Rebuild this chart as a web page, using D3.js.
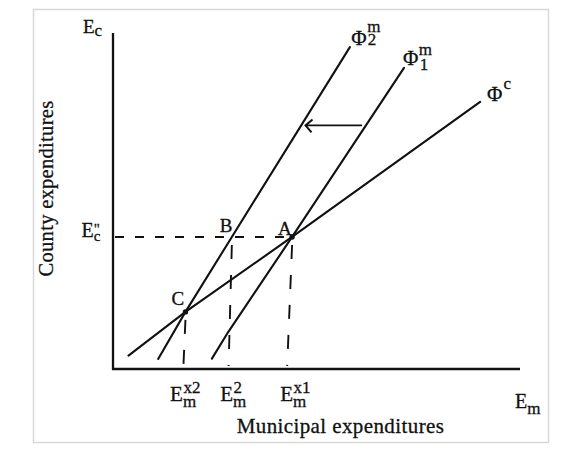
<!DOCTYPE html>
<html><head><meta charset="utf-8">
<script src="https://cdn.jsdelivr.net/npm/d3@7"></script>
<style>
body{margin:0;background:#fff}
svg{display:block}
text{font-family:"Liberation Serif","Times New Roman",serif;fill:#111;stroke:#111;stroke-width:0.3px}
</style>
</head><body>
<svg id="c" width="576" height="451"></svg>
<script>
// ---- data (abstract units) ----
const phiC  = [[3.8,4.0],[17.8,17.0],[44.0,39.3],[90.2,79.5]];
const phiM2 = [[11.1,3.0],[17.8,17.0],[29.2,39.3],[58.2,95.8]];
const phiM1 = [[24.3,3.1],[28.3,11.0],[44.0,39.3],[71.5,89.6]];
const pointNames = ["A","B","C"];
const pointX = [44.0, 29.2, 17.8];
const pointY = [39.3, 39.3, 17.0];
const ecLevel = 39.3;
const dropTopX = [17.8, 29.2, 44.0];
const dropTopY = [17.0, 39.3, 39.3];
const dropBottomX = [17.3, 28.4, 42.8];
const tickSup = ["x2", "2", "x1"];
const arrowFrom = [61.2, 72.5];
const arrowTo = [47.3, 72.5];

// ---- layout ----
const svg = d3.select("#c");
const x = d3.scaleLinear().domain([0,100]).range([113,520]);
const y = d3.scaleLinear().domain([0,100]).range([369,33]);
const ink = "#111";

// frame
svg.append("rect").attr("x",33.5).attr("y",9.5).attr("width",515).attr("height",433)
  .attr("fill","none").attr("stroke","#d8d8d8").attr("stroke-width",1.5);

// axes
svg.append("line").attr("x1",x(0)).attr("x2",x(0)).attr("y1",y(0)+1).attr("y2",y(100))
  .attr("stroke",ink).attr("stroke-width",2.3);
svg.append("line").attr("x1",x(0)-1).attr("x2",x(100)).attr("y1",y(0)).attr("y2",y(0))
  .attr("stroke",ink).attr("stroke-width",2.3);

// dashed horizontal at Ec''
svg.append("line").attr("x1",x(0)+2).attr("x2",x(pointX[0])).attr("y1",y(ecLevel)).attr("y2",y(ecLevel))
  .attr("stroke",ink).attr("stroke-width",1.9).attr("stroke-dasharray","9,11");

// dashed drop lines
dropTopX.forEach((tx,i)=>{
  svg.append("line").attr("x1",x(tx)).attr("y1",y(dropTopY[i])+8)
    .attr("x2",x(dropBottomX[i])).attr("y2",y(0)-3)
    .attr("stroke",ink).attr("stroke-width",1.9).attr("stroke-dasharray","14,16");
});

// curves
const line = d3.line().x(d=>x(d[0])).y(d=>y(d[1]));
[phiC, phiM2, phiM1].forEach(p=>{
  svg.append("path").attr("d",line(p)).attr("fill","none").attr("stroke",ink)
    .attr("stroke-width",2.1).attr("stroke-linecap","round");
});

// points
svg.selectAll("circle.pt").data([0,2]).enter().append("circle")
  .attr("cx",i=>x(pointX[i])).attr("cy",i=>y(pointY[i])).attr("r",2.7).attr("fill",ink);

// point labels
const lblOff = {A:[-14,-2], B:[-12,-5], C:[-14,-7]};
pointNames.forEach((n,i)=>{
  svg.append("text").attr("x",x(pointX[i])+lblOff[n][0]).attr("y",y(pointY[i])+lblOff[n][1])
    .attr("font-size",19).text(n);
});

// arrow
svg.append("line").attr("x1",x(arrowFrom[0])).attr("y1",y(arrowFrom[1]))
  .attr("x2",x(arrowTo[0])).attr("y2",y(arrowTo[1])).attr("stroke",ink).attr("stroke-width",1.6);
svg.append("path")
  .attr("d",`M${x(arrowTo[0])+7},${y(arrowTo[1])-6} L${x(arrowTo[0])},${y(arrowTo[1])} L${x(arrowTo[0])+6},${y(arrowTo[1])+7}`)
  .attr("fill","none").attr("stroke",ink).attr("stroke-width",2);

// symbol with stacked sup / sub in a single text element
function symbol(px, py, main, mainSize, sup, sub, o){
  const ss = o.ss || 17;
  const t = svg.append("text").attr("x",px).attr("y",py);
  t.append("tspan").attr("font-size",mainSize).text(main);
  let supW = 0;
  if(sup){
    const s = t.append("tspan").attr("font-size",ss).attr("dx",o.supDx||0).attr("dy",o.supDy).text(sup);
    supW = s.node().getComputedTextLength() + (o.supDx||0);
  }
  if(sub){
    t.append("tspan").attr("font-size",ss).attr("dx",-supW + (o.subDx||0))
      .attr("dy",(o.subDy) - (sup ? o.supDy : 0)).text(sub);
  }
  return t;
}

// curve labels
const e2 = phiM2[phiM2.length-1], e1 = phiM1[phiM1.length-1], ec = phiC[phiC.length-1];
symbol(x(e2[0])+1.5, y(e2[1])-2, "Φ", 21, "m", "2", {supDy:-13, subDy:0, supDx:0.5, subDx:1, ss:17});
symbol(x(e1[0])-1, y(e1[1])-3, "Φ", 21, "m", "1", {supDy:-10, subDy:5, supDx:0.5, subDx:1.5, ss:17});
symbol(x(ec[0])+7, y(ec[1])-1, "Φ", 21, "c", null, {supDy:-12, supDx:1, ss:17});

// axis symbols
symbol(83, 33, "E", 19, null, "c", {subDy:3, ss:17});
symbol(81.5, 237, "E", 20, "\"", "c", {supDy:-3, subDy:4, ss:15});
symbol(515, 408, "E", 20, null, "m", {subDy:6, ss:17});

// x tick labels
const labelNudge = [-13.3, -8.3, -7];
dropBottomX.forEach((tx,i)=>{
  symbol(x(tx)+labelNudge[i], 400.5, "E", 21, tickSup[i], "m", {supDy:-7.5, subDy:6, supDx:0.5, ss:17});
});

// axis titles
svg.append("text").attr("x",340.5).attr("y",433).attr("text-anchor","middle").attr("font-size",21)
  .attr("letter-spacing",0.4).text("Municipal expenditures");
svg.append("text").attr("transform","translate(53,188.5) rotate(-90)").attr("text-anchor","middle")
  .attr("font-size",20.5).attr("letter-spacing",0.3).text("County expenditures");
</script>
</body></html>
